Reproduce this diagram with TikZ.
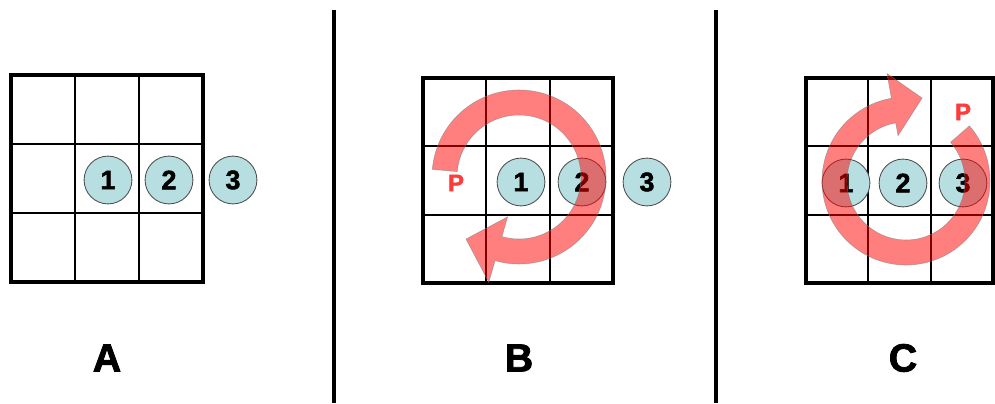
\documentclass[tikz,border=0pt]{standalone}
\usepackage{fontspec}
\setmainfont{Liberation Sans}
\newfontfamily\heavyfont[BoldFeatures={FakeBold=2}]{Liberation Sans}
\definecolor{ballfill}{RGB}{183,222,224}
\definecolor{pred}{RGB}{255,60,60}
\begin{document}
\begin{tikzpicture}[x=0.025cm, y=0.025cm,
  frame/.style={line width=2.8pt},
  cellline/.style={line width=1.4pt},
  divider/.style={line width=2.5pt},
  ball/.style={circle, draw=black!70, line width=0.6pt, fill=ballfill,
    minimum size=34pt, inner sep=0pt, font=\fontsize{19}{19}\heavyfont\bfseries},
  turn/.style={fill=red, fill opacity=0.5, draw=gray, draw opacity=0.6, line width=0.4pt},
  plabel/.style={text=pred, font=\fontsize{17}{17}\heavyfont\bfseries},
  panel/.style={font=\fontsize{28}{28}\heavyfont\bfseries}]
  \useasboundingbox (0,0) rectangle (995,403);
  % the three 3x3 boards
  \foreach \xa/\ya/\wd/\ht in {11/121/192/207, 423/120/190/205, 806/120/187/205} {
    \foreach \i in {1,2} {
      \draw[cellline] (\xa+\i*\wd/3,\ya) -- ++(0,\ht);
      \draw[cellline] (\xa,\ya+\i*\ht/3) -- ++(\wd,0);
    }
    \draw[frame] (\xa,\ya) rectangle ++(\wd,\ht);
  }
  \draw[divider] (334,393) -- (334,0);
  \draw[divider] (716,393) -- (716,0);
  % pieces
  \foreach \n/\x in {1/108, 2/169, 3/233} \node[ball] (a\n) at (\x,223) {\n};
  \foreach \n/\x in {1/521, 2/582, 3/647} \node[ball] (b\n) at (\x,221) {\n};
  \foreach \n/\x in {1/846, 2/903, 3/963} \node[ball] (c\n) at (\x,220) {\n};
  % turning arrows
  \begin{scope}[shift={(519,226)}]
    \draw[turn] (175:87) arc[start angle=175, end angle=-106, radius=87]
      -- (-106:109.5) -- (-130.5:81.6) -- (-106:41.5) -- (-106:62)
      arc[start angle=-106, end angle=175, radius=62] -- cycle;
  \end{scope}
  \begin{scope}[shift={(906,222)}]
    \draw[turn] (41:84) arc[start angle=41, end angle=-260, radius=84]
      -- (-260:109) -- (-281:84.5) -- (-260:46) -- (-260:59)
      arc[start angle=-260, end angle=41, radius=59] -- cycle;
  \end{scope}
  \node[plabel] (pb) at (456,220) {P};
  \node[plabel] (pc) at (963,291) {P};
  \node[panel] (la) at (107,45) {A};
  \node[panel] (lb) at (519,45) {B};
  \node[panel] (lc) at (903,45) {C};
\end{tikzpicture}
\end{document}
